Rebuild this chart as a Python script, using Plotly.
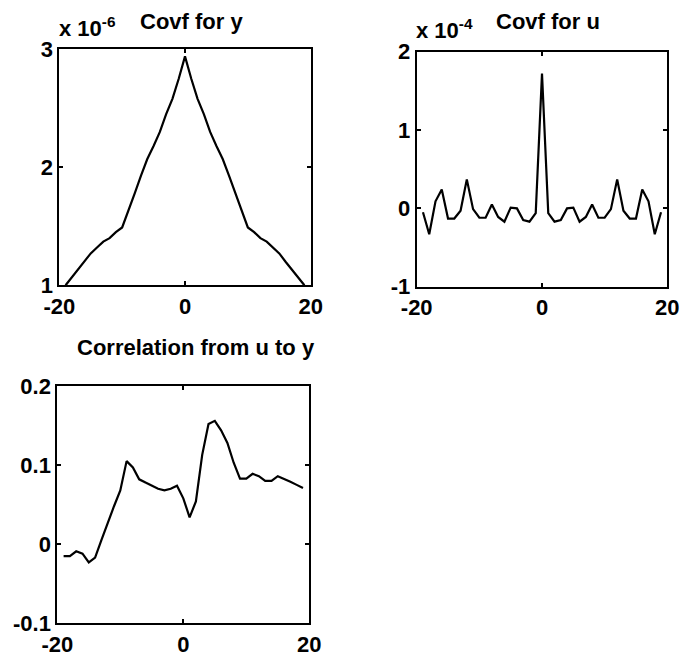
import plotly.graph_objects as go

# ---- data ----
lags = list(range(-19, 20))

# Covf for y (units of 1e-6), lags 0..19, symmetric
covf_y_half = [2.94, 2.75, 2.58, 2.45, 2.30, 2.18, 2.07, 1.93, 1.78, 1.63,
               1.49, 1.45, 1.40, 1.37, 1.32, 1.27, 1.20, 1.13, 1.07, 1.00]
# Covf for u (units of 1e-4), lags 0..19, symmetric
covf_u_half = [1.72, -0.06, -0.17, -0.15, 0.00, 0.01, -0.17, -0.11, 0.05, -0.12,
               -0.12, -0.01, 0.37, -0.03, -0.13, -0.13, 0.24, 0.09, -0.33, -0.05]
# Correlation from u to y, lags -19..19
corr_uy = [-0.015, -0.015, -0.009, -0.012, -0.023, -0.017, 0.005, 0.027, 0.048, 0.068,
           0.105, 0.097, 0.082, 0.078, 0.074, 0.070, 0.068, 0.070, 0.074, 0.058,
           0.034, 0.054, 0.113, 0.152, 0.156, 0.144, 0.128, 0.103, 0.083, 0.083,
           0.089, 0.086, 0.080, 0.080, 0.086, 0.083, 0.079, 0.075, 0.071]

covf_y = covf_y_half[:0:-1] + covf_y_half
covf_u = covf_u_half[:0:-1] + covf_u_half

x_ticks = [-20, 0, 20]
x_ticktext = ["-20", "0", "20"]
y1_ticks = [1, 2, 3]
y1_text = ["1", "2", "3"]
y2_ticks = [-1, 0, 1, 2]
y2_text = ["-1", "0", "1", "2"]
y3_ticks = [-0.1, 0, 0.1, 0.2]
y3_text = ["-0.1", "0", "0.1", "0.2"]

titles = ["Covf for y", "Covf for u", "Correlation from u to y"]
exps = ["-6", "-4"]

W, H = 684, 660
FONT = "Liberation Sans, Arial, sans-serif"
FS = 22

def px(x):
    return x / W

def py(y):
    return 1 - y / H

fig = go.Figure()
fig.add_trace(go.Scatter(x=lags, y=covf_y, mode="lines", line=dict(color="black", width=2.2),
                         xaxis="x", yaxis="y", showlegend=False))
fig.add_trace(go.Scatter(x=lags, y=covf_u, mode="lines", line=dict(color="black", width=2.2),
                         xaxis="x2", yaxis="y2", showlegend=False))
fig.add_trace(go.Scatter(x=lags, y=corr_uy, mode="lines", line=dict(color="black", width=2.2),
                         xaxis="x3", yaxis="y3", showlegend=False))

tfont = dict(family=FONT, size=FS, color="black", weight="bold")

def xax(dom, anchor):
    return dict(domain=dom, anchor=anchor, range=[-20, 20], tickvals=x_ticks, ticktext=x_ticktext,
                ticks="inside", ticklen=4, tickwidth=1.5, tickcolor="black",
                showline=True, linewidth=2, linecolor="black", mirror="ticks",
                showgrid=False, zeroline=False, automargin=False, tickfont=tfont)

def yax(dom, anchor, rng, tv, tt):
    return dict(domain=dom, anchor=anchor, range=rng, tickvals=tv, ticktext=tt,
                ticks="inside", ticklen=4, tickwidth=1.5, tickcolor="black",
                showline=True, linewidth=2, linecolor="black", mirror="ticks",
                showgrid=False, zeroline=False, automargin=False, tickfont=tfont)

fig.update_layout(
    width=W, height=H,
    margin=dict(l=0, r=0, t=0, b=0, autoexpand=False),
    paper_bgcolor="white", plot_bgcolor="white",
    xaxis=xax([px(59.3), px(310.7)], "y"),
    yaxis=yax([py(285.3), py(49.3)], "x", [1, 3], y1_ticks, y1_text),
    xaxis2=xax([px(416.7), px(667.3)], "y2"),
    yaxis2=yax([py(286.7), py(51.7)], "x2", [-1, 2], y2_ticks, y2_text),
    xaxis3=xax([px(57.3), px(309.3)], "y3"),
    yaxis3=yax([py(623.3), py(386)], "x3", [-0.1, 0.2], y3_ticks, y3_text),
    showlegend=False,
)

anns = [
    dict(text=titles[0], x=px(191), y=py(21), xanchor="center", yanchor="middle"),
    dict(text=titles[1], x=px(548), y=py(21), xanchor="center", yanchor="middle"),
    dict(text=titles[2], x=px(196), y=py(347), xanchor="center", yanchor="middle"),
    dict(text="x 10<sup>" + exps[0] + "</sup>", x=px(57), y=py(27), xanchor="left", yanchor="middle"),
    dict(text="x 10<sup>" + exps[1] + "</sup>", x=px(414), y=py(29), xanchor="left", yanchor="middle"),
]
for a in anns:
    fig.add_annotation(xref="paper", yref="paper", showarrow=False, font=tfont, **a)

fig.write_html("out.html")
